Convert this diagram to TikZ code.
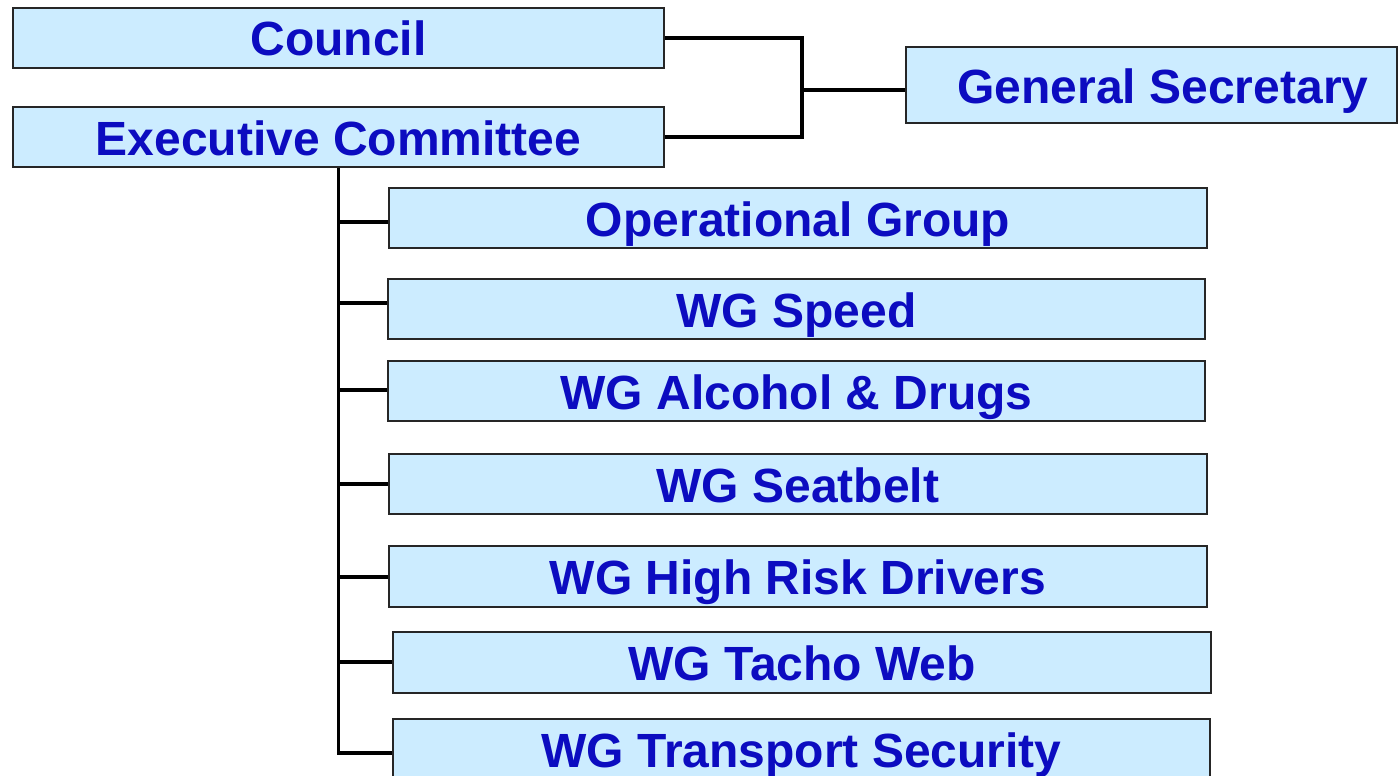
\documentclass[tikz,border=0pt]{standalone}
\usepackage{fontspec}
\setmainfont{Liberation Sans}
\definecolor{orgfill}{HTML}{CCECFF}
\definecolor{orgtext}{HTML}{0C0CC0}
\tikzset{
  orgbox/.style={rectangle, draw=black!85, fill=orgfill, line width=1.5pt, inner sep=0pt,
                 font=\fontsize{48}{50}\selectfont\bfseries, text=orgtext,
                 text height=36pt, text depth=0pt, minimum height=#1},
  orgbox/.default=60pt,
  link/.style={line width=3.5pt, draw=black},
}
\begin{document}
\begin{tikzpicture}[x=1pt, y=-1pt]
  \useasboundingbox (0,0) rectangle (1398,776);
  % top level
  \node[orgbox, minimum width=651pt] (council) at (338.5,38) {Council};
  \node[orgbox, minimum width=651pt] (exec) at (338.5,137) {Executive Committee};
  \node[orgbox=76pt, minimum width=491pt] (gensec) at (1151.5,85) {\hspace*{23pt}General Secretary};
  % working groups
  \node[orgbox, minimum width=818pt] (opgroup) at (798,218) {Operational Group};
  \node[orgbox, minimum width=817pt] (speed) at (796.5,309) {WG Speed};
  \node[orgbox, minimum width=817pt] (alcohol) at (796.5,391) {WG Alcohol \& Drugs};
  \node[orgbox, minimum width=818pt] (seatbelt) at (798,484) {WG Seatbelt};
  \node[orgbox=61pt, minimum width=818pt] (highrisk) at (798,576.5) {WG High Risk Drivers};
  \node[orgbox=61pt, minimum width=818pt] (tacho) at (802,662.5) {WG Tacho Web};
  \node[orgbox, minimum width=817pt] (transport) at (801.5,749) {WG Transport Security};
  % council and executive to general secretary
  \coordinate (junc) at (802,90);
  \draw[link] (council.east) -| (junc) |- (exec.east);
  \draw[link] (junc) -- (junc -| gensec.west);
  % executive to working groups
  \draw[link] (exec.south) |- (transport.west |- 0,753);
  \foreach \wg/\yy in {opgroup/222, speed/303, alcohol/390, seatbelt/484, highrisk/577, tacho/662}
    \draw[link] (exec.south |- 0,\yy) -- (\wg.west |- 0,\yy);
\end{tikzpicture}
\end{document}
